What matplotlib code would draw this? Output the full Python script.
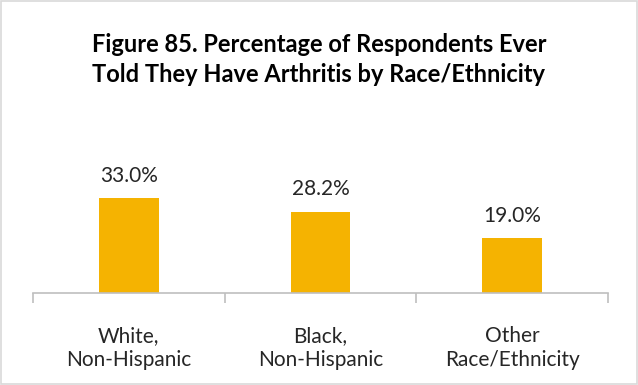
import matplotlib.pyplot as plt
from matplotlib.patches import Rectangle

categories = ["White,\nNon-Hispanic", "Black,\nNon-Hispanic", "Other\nRace/Ethnicity"]
values = [33.0, 28.2, 19.0]
labels = ["33.0%", "28.2%", "19.0%"]

plt.rcParams['font.family'] = ['Lato', 'DejaVu Sans']

fig = plt.figure(figsize=(6.38, 3.85), dpi=100)
ax = fig.add_axes([0.0517, 0.239, 0.9013, 0.299])

x = range(len(values))
ax.bar(x, values, width=0.31, color="#F5B301")
ax.set_xlim(-0.5, 2.5)
ax.set_ylim(0, 40)

for xi, v, lab in zip(x, values, labels):
    ax.annotate(lab, (xi, v), xytext=(0, 9), textcoords="offset points",
                ha="center", va="bottom", fontsize=15, color="#262626")

# axis line with ticks between categories
for s in ["top", "right", "left"]:
    ax.spines[s].set_visible(False)
ax.spines["bottom"].set_color("#BFBFBF")
ax.spines["bottom"].set_linewidth(1.2)
ax.set_yticks([])
ax.set_xticks([-0.5, 0.5, 1.5, 2.5])
ax.set_xticklabels([])
ax.tick_params(axis="x", length=7, color="#BFBFBF", width=1.2)
ax.set_xticks(list(x), minor=True)
ax.set_xticklabels(categories, minor=True, fontsize=15, color="#262626", linespacing=1.2)
ax.tick_params(axis="x", which="minor", length=0, pad=24)

fig.text(0.5, 0.845, "Figure 85. Percentage of Respondents Ever\nTold They Have Arthritis by Race/Ethnicity",
         ha="center", va="center", fontsize=17, fontweight="bold", linespacing=1.35)

fig.patches.append(Rectangle((0.002, 0.003), 0.996, 0.994, transform=fig.transFigure,
                             fill=False, edgecolor="#D9D9D9", linewidth=1.2))

fig.savefig("out.png", dpi=100)
